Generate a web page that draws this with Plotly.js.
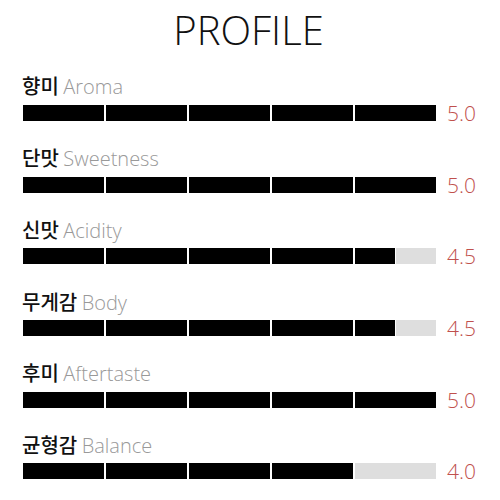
<!DOCTYPE html>
<html>
<head>
<meta charset="utf-8">
<script src="https://cdn.plot.ly/plotly-3.0.1.min.js"></script>
<style>body{margin:0;background:#fff}</style>
</head>
<body>
<div id="chart" style="width:500px;height:500px"></div>
<script>
// profile scores, out of 5
const korean = ['향미','단맛','신맛','무게감','후미','균형감']
const english = ['Aroma','Sweetness','Acidity','Body','Aftertaste','Balance']
const scores = [5.0, 5.0, 4.5, 4.5, 5.0, 4.0]
const maxScore = 5

const cats = english
let traces = []
// one trace per unit step so the white outline splits the bar
for (let i = 0; i < maxScore; i++) {
    traces.push({
        type: 'bar',
        orientation: 'h',
        y: cats,
        x: scores.map(v => Math.min(1, Math.max(0, v - i))),
        marker: {color: '#000', line: {color: '#fff', width: 1.5}},
        hoverinfo: 'skip'
    })
}
// grey remainder up to 5
traces.push({
    type: 'bar',
    orientation: 'h',
    y: cats,
    x: scores.map(v => maxScore - v),
    marker: {color: '#dedede', line: {color: '#fff', width: 1.5}},
    hoverinfo: 'skip'
})

let annotations = []
cats.forEach((c, i) => {
    annotations.push({
        xref: 'paper', x: 0, y: c, yshift: 27, xshift: -2,
        xanchor: 'left', yanchor: 'middle', showarrow: false,
        text: `<span style="font-family:'Noto Sans CJK KR';font-weight:500;color:#111">${korean[i]}</span> <span style="font-family:'Open Sans';font-weight:300;color:#999">${english[i]}</span>`,
        font: {family: 'Noto Sans CJK KR', size: 20, color: '#111'}
    })
    annotations.push({
        x: maxScore, y: c, xshift: 8,
        xanchor: 'left', yanchor: 'middle', showarrow: false,
        text: scores[i].toFixed(1),
        font: {family: 'Open Sans', weight: 300, size: 21, color: '#c0504d'}
    })
})

let layout = {
    width: 500, height: 500,
    margin: {l: 22, r: 63, t: 80, b: 10},
    paper_bgcolor: '#fff', plot_bgcolor: '#fff',
    barmode: 'stack',
    bargap: 0.755,
    showlegend: false,
    title: {
        text: 'PROFILE',
        x: 0.497, xanchor: 'center',
        yref: 'container', y: 0.938, yanchor: 'middle',
        font: {family: 'Open Sans', weight: 300, size: 40, color: '#111'}
    },
    xaxis: {range: [0, maxScore], visible: false, fixedrange: true},
    yaxis: {
        type: 'category', categoryorder: 'array', categoryarray: cats,
        range: [5.26, -0.46], visible: false, fixedrange: true
    },
    annotations: annotations
}

Plotly.newPlot(document.getElementById('chart'), traces, layout, {displayModeBar: false, staticPlot: true})
</script>
</body>
</html>
